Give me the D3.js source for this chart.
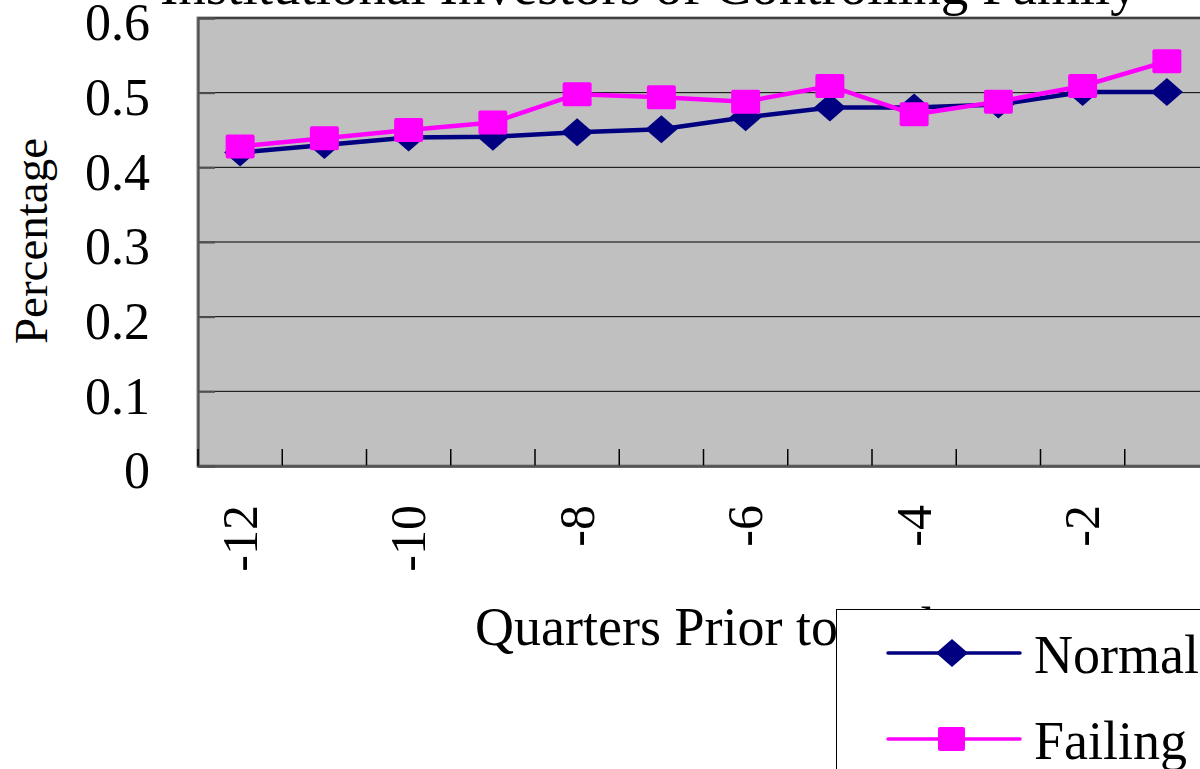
<!DOCTYPE html>
<html>
<head>
<meta charset="utf-8">
<script src="https://cdn.jsdelivr.net/npm/d3@7"></script>
<style>
  body { margin: 0; background: #fff; }
  text { font-family: "Liberation Serif", "Times New Roman", serif; fill: #000; }
</style>
</head>
<body>
<svg id="svg"></svg>
<script>
// chart values
var quarters = [-12, -11, -10, -9, -8, -7, -6, -5, -4, -3, -2, -1];
var normalValues = [0.420, 0.430, 0.440, 0.441, 0.447, 0.451, 0.467, 0.480, 0.480, 0.484, 0.501, 0.501];
var failingValues = [0.428, 0.439, 0.450, 0.460, 0.498, 0.494, 0.488, 0.509, 0.471, 0.488, 0.509, 0.542];
var xTickLabels = [-12, -10, -8, -6, -4, -2];
var yTicks = [0, 0.1, 0.2, 0.3, 0.4, 0.5, 0.6];
var seriesNames = ["Normal", "Failing"];

var width = 1200, height = 769;
var margin = {left: 198, top: 18};
var plot_width = 1011, plot_height = 448;

var svg = d3.select("#svg").attr("width", width).attr("height", height);

var xScale = d3.scaleBand().domain(quarters).range([margin.left, margin.left + plot_width]);
var yScale = d3.scaleLinear().domain([0, 0.6]).range([margin.top + plot_height, margin.top]);

// plot area
svg.append("rect")
    .attr("x", margin.left)
    .attr("y", margin.top)
    .attr("width", plot_width)
    .attr("height", plot_height)
    .attr("fill", "#c0c0c0")
    .attr("stroke", "#808080")
    .attr("stroke-width", 3);

// grid lines
svg.append("g").selectAll("line")
    .data(yTicks.filter(d => d > 0))
    .enter()
    .append("line")
    .attr("x1", margin.left)
    .attr("x2", margin.left + plot_width)
    .attr("y1", d => yScale(d))
    .attr("y2", d => yScale(d))
    .attr("stroke", "#000")
    .attr("stroke-width", 1);

// y axis
var yAxis = svg.append("g")
    .attr("transform", `translate(${margin.left}, 0)`)
    .call(d3.axisLeft(yScale)
        .tickValues(yTicks)
        .tickSize(-17)
        .tickPadding(48)
        .tickFormat(d => d === 0 ? "0" : d.toFixed(1)));
yAxis.select(".domain").attr("stroke", "#505050").attr("stroke-width", 2);
yAxis.selectAll(".tick line").attr("stroke", "#505050").attr("stroke-width", 2);
yAxis.selectAll("text")
    .attr("font-size", 52)
    .attr("dy", "0.42em")
    .style("font-family", "Liberation Serif");

// x axis, ticks between categories
svg.append("g").selectAll("line")
    .data(quarters)
    .enter()
    .append("line")
    .attr("x1", d => xScale(d))
    .attr("x2", d => xScale(d))
    .attr("y1", yScale(0))
    .attr("y2", yScale(0) - 17)
    .attr("stroke", "#000")
    .attr("stroke-width", 1.5);

var xAxis = svg.append("g")
    .attr("transform", `translate(0, ${yScale(0)})`)
    .call(d3.axisBottom(xScale).tickValues(xTickLabels).tickSize(0));
xAxis.select(".domain").attr("stroke", "#505050").attr("stroke-width", 2.5);
xAxis.selectAll("text")
    .attr("font-size", 50)
    .attr("transform", "rotate(-90)")
    .attr("text-anchor", "end")
    .attr("x", -39)
    .attr("y", 0)
    .attr("dy", "0.33em")
    .style("font-family", "Liberation Serif");

// series
var cx = d => xScale(d) + xScale.bandwidth() / 2;
var line = d3.line().x((d, i) => cx(quarters[i])).y(d => yScale(d));

function diamond(w, h) {
    return `M0,${-h / 2}L${w / 2},0L0,${h / 2}L${-w / 2},0Z`;
}

svg.append("path")
    .datum(normalValues)
    .attr("d", line)
    .attr("fill", "none")
    .attr("stroke", "#000080")
    .attr("stroke-width", 4.5);
svg.append("g").selectAll("path")
    .data(normalValues)
    .enter()
    .append("path")
    .attr("d", diamond(32, 28))
    .attr("transform", (d, i) => `translate(${cx(quarters[i])}, ${yScale(d)})`)
    .attr("fill", "#000080");

svg.append("path")
    .datum(failingValues)
    .attr("d", line)
    .attr("fill", "none")
    .attr("stroke", "#ff00ff")
    .attr("stroke-width", 4.5);
svg.append("g").selectAll("rect")
    .data(failingValues)
    .enter()
    .append("rect")
    .attr("x", (d, i) => cx(quarters[i]) - 14.5)
    .attr("y", d => yScale(d) - 12)
    .attr("width", 29)
    .attr("height", 24)
    .attr("rx", 2)
    .attr("fill", "#ff00ff");

// titles
svg.append("text")
    .attr("x", 160)
    .attr("y", 4)
    .attr("font-size", 55)
    .text("Institutional Investors of Controlling Family");

svg.append("text")
    .attr("transform", "translate(47, 241) rotate(-90)")
    .attr("text-anchor", "middle")
    .attr("font-size", 47)
    .text("Percentage");

svg.append("text")
    .attr("x", 475)
    .attr("y", 645)
    .attr("font-size", 54)
    .text("Quarters Prior to Failure");

// legend
var legend = svg.append("g").attr("transform", "translate(836, 609)");
legend.append("rect")
    .attr("x", 0.5)
    .attr("y", 0.5)
    .attr("width", 400)
    .attr("height", 300)
    .attr("fill", "#fff")
    .attr("stroke", "#000")
    .attr("stroke-width", 1);

var legendColors = ["#000080", "#ff00ff"];
var legendY = d3.scalePoint().domain(seriesNames).range([44, 130]);
var item = legend.selectAll(".item")
    .data(seriesNames)
    .enter()
    .append("g")
    .attr("transform", d => `translate(0, ${legendY(d)})`);
item.append("line")
    .attr("x1", 52)
    .attr("x2", 184)
    .attr("stroke", (d, i) => legendColors[i])
    .attr("stroke-width", 3.5)
    .attr("stroke-linecap", "round");
item.filter((d, i) => i === 0).append("path")
    .attr("d", diamond(32, 28))
    .attr("transform", "translate(116, 0)")
    .attr("fill", legendColors[0]);
item.filter((d, i) => i === 1).append("rect")
    .attr("x", 102)
    .attr("y", -12)
    .attr("width", 27)
    .attr("height", 24)
    .attr("rx", 2)
    .attr("fill", legendColors[1]);
item.append("text")
    .attr("x", 198)
    .attr("y", 20)
    .attr("font-size", 54)
    .text(d => d);
</script>
</body>
</html>
